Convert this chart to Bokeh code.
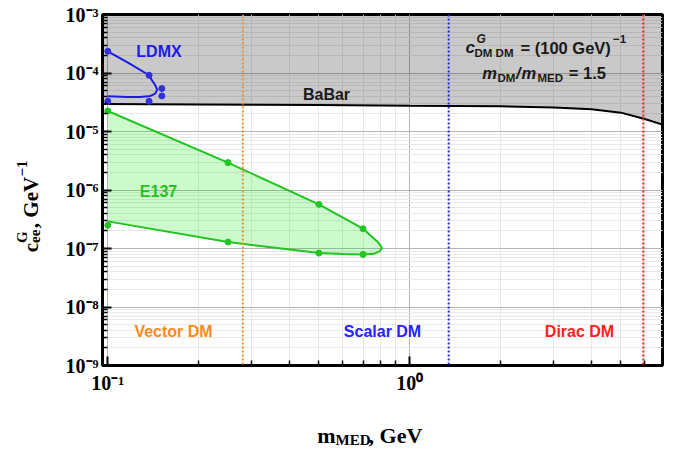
import math
from bokeh.plotting import figure
from bokeh.models import Label, FixedTicker, Range1d, Span
from bokeh.embed import file_html
from bokeh.resources import INLINE

# ---------------- data ----------------
x_major = [0.1, 1.0]
x_major_labels = ["10⁻¹", "10⁰"]
x_minor = [0.2, 0.3, 0.4, 0.5, 0.6, 0.7, 0.8, 0.9, 2.0, 3.0, 4.0, 5.0, 6.0]

y_major = [1e-9, 1e-8, 1e-7, 1e-6, 1e-5, 1e-4, 1e-3]
y_major_labels = ["10⁻⁹", "10⁻⁸", "10⁻⁷", "10⁻⁶", "10⁻⁵", "10⁻⁴", "10⁻³"]
y_minor = [m * d for d in [1e-9, 1e-8, 1e-7, 1e-6, 1e-5, 1e-4] for m in range(2, 10)]

babar_x = [0.09, 0.2, 0.5, 1.0, 2.0, 3.0, 4.0, 5.0, 6.0, 7.0]
babar_y = [2.95e-5, 2.9e-5, 2.85e-5, 2.75e-5, 2.7e-5, 2.57e-5, 2.4e-5, 2.1e-5, 1.64e-5, 1.27e-5]

e137_x = [0.1, 0.25, 0.5, 0.7, 0.751, 0.784, 0.804, 0.808, 0.796, 0.76, 0.70, 0.6, 0.5, 0.25, 0.1]
e137_y = [2.24e-5, 2.94e-6, 5.68e-7, 2.18e-7, 1.57e-7, 1.29e-7, 1.09e-7, 1.0e-7,
          9.0e-8, 8.1e-8, 7.92e-8, 8.05e-8, 8.34e-8, 1.29e-7, 2.91e-7]
e137_pts_x = [0.1, 0.25, 0.5, 0.7, 0.1, 0.25, 0.5, 0.7]
e137_pts_y = [2.24e-5, 2.94e-6, 5.68e-7, 2.18e-7, 2.49e-7, 1.29e-7, 8.34e-8, 7.92e-8]

ldmx_x = [0.1, 0.117, 0.137, 0.14, 0.1436, 0.1458, 0.1436, 0.1385, 0.128, 0.116, 0.1]
ldmx_y = [2.35e-4, 1.49e-4, 9.15e-5, 7.5e-5, 6.16e-5, 5.2e-5, 4.45e-5, 4.05e-5, 3.9e-5, 3.9e-5, 4.0e-5]
ldmx_pts_x = [0.1, 0.137, 0.151, 0.151, 0.1, 0.137]
ldmx_pts_y = [2.35e-4, 9.15e-5, 5.42e-5, 4.05e-5, 3.29e-5, 3.29e-5]

vline_x = [0.28, 1.345, 5.93]
vline_colors = ["#ff8a1c", "#2424ff", "#ff2020"]
region_labels = ["Vector DM", "Scalar DM", "Dirac DM"]

# ---------------- geometry ----------------
W, H = 688, 451
L, R, T, B = 102, 662, 14, 365
X0, X1 = 0.09604, 6.867
Y0, Y1 = 1e-9, 1e-3


def dx(sx):
    lx0, lx1 = math.log10(X0), math.log10(X1)
    return 10 ** (lx0 + (sx - L) / (R - L) * (lx1 - lx0))


def dy(sy):
    ly0, ly1 = math.log10(Y0), math.log10(Y1)
    return 10 ** (ly1 - (sy - T) / (B - T) * (ly1 - ly0))


p = figure(width=W, height=H, x_axis_type="log", y_axis_type="log",
           x_range=Range1d(X0, X1), y_range=Range1d(Y0, Y1),
           output_backend="svg", toolbar_location=None,
           min_border_left=L, min_border_right=W - R,
           min_border_top=T, min_border_bottom=H - B)
p.background_fill_color = "white"
p.border_fill_color = "white"
p.outline_line_color = "black"
p.outline_line_width = 3

for ax, maj, lab_, mnr in ((p.xaxis, x_major, x_major_labels, x_minor),
                           (p.yaxis, y_major, y_major_labels, y_minor)):
    ax.ticker = FixedTicker(ticks=maj, minor_ticks=mnr)
    ax.major_label_overrides = {t: s for t, s in zip(maj, lab_)}
    ax.axis_line_color = None
    ax.major_tick_in = 9
    ax.major_tick_out = 0
    ax.minor_tick_in = 5
    ax.minor_tick_out = 0
    ax.major_tick_line_width = 2
    ax.minor_tick_line_width = 1.5
    ax.major_tick_line_color = "black"
    ax.minor_tick_line_color = "black"
    ax.major_label_text_font = "Liberation Serif"
    ax.major_label_text_font_style = "bold"
    ax.major_label_text_font_size = "20px"
    ax.major_label_text_color = "black"
p.xaxis.major_label_standoff = 6
p.yaxis.major_label_standoff = 4

p.xgrid.ticker = FixedTicker(ticks=x_major, minor_ticks=x_minor)
p.ygrid.ticker = FixedTicker(ticks=y_major, minor_ticks=y_minor)
for g in (p.xgrid, p.ygrid):
    g.grid_line_color = "#b4b4b4"
    g.grid_line_width = 1
    g.minor_grid_line_color = "#e8e8e8"
    g.minor_grid_line_width = 1

# BaBar excluded region
p.varea(x=babar_x, y1=babar_y, y2=[Y1] * len(babar_x), fill_color="black", fill_alpha=0.21)
p.line(babar_x, babar_y, line_color="black", line_width=2)

# E137
p.patch(e137_x, e137_y, fill_color="#00e600", fill_alpha=0.2, line_color=None)
p.line(e137_x, e137_y, line_color="#22c422", line_width=2)
p.scatter(e137_pts_x, e137_pts_y, size=6, color="#22c422")

# LDMX
p.line(ldmx_x, ldmx_y, line_color="#1c1ce6", line_width=2)
p.scatter(ldmx_pts_x, ldmx_pts_y, size=6, color="#3030dd")

# vertical thresholds
for xv, c in zip(vline_x, vline_colors):
    p.add_layout(Span(location=xv, dimension="height", line_color=c,
                      line_dash="2 2", line_width=2))


def lab(text, sx, sy, size, color="black", style="bold", font="Liberation Sans",
        align="left", baseline="alphabetic", angle=0.0, place=None):
    lb = Label(x=dx(sx), y=dy(sy), text=text, text_font=font,
               text_font_size=f"{size}px", text_font_style=style,
               text_color=color, text_align=align, text_baseline=baseline,
               angle=angle)
    if place is None:
        p.add_layout(lb)
    else:
        p.add_layout(lb, place)


# curve names
lab("LDMX", 158.5, 51, 16, color="#1c1ce6", align="center", baseline="middle")
lab("BaBar", 326, 94, 16, color="#1a1a1a", align="center", baseline="middle")
lab("E137", 158, 190.5, 16, color="#22c422", align="center", baseline="middle")
for txt, c, sx in zip(region_labels, vline_colors, [173, 382, 579]):
    lab(txt, sx, 331, 16, color=c, align="center", baseline="middle")

# parameter annotation
ink = "#1a1a1a"
lab("c", 465, 47, 17, color=ink, style="bold italic")
lab("G", 476, 38, 12, color=ink, style="bold italic")
lab("DM DM", 474, 52.5, 11.5, color=ink)
lab("= (100 GeV)", 520, 47, 16.5, color=ink)
lab("−1", 612.5, 38.5, 11.5, color=ink)
lab("m", 481.7, 72.7, 16.5, color=ink, style="bold italic")
lab("DM", 497, 77.5, 11.5, color=ink)
lab("/", 515.5, 72.7, 16.5, color=ink, style="bold italic")
lab("m", 521, 72.7, 16.5, color=ink, style="bold italic")
lab("MED", 537, 77.5, 11.5, color=ink)
lab("= 1.5", 568.3, 72.7, 16.5, color=ink)

# axis titles (placed in side panels so that they are drawn outside the frame)
serif = "Liberation Serif"
nb = "\u00a0"
lab("m" + nb * 6 + ", GeV", 316.7, 434.5, 22, font=serif, place="below")
lab("MED", 335, 439.0, 15, font=serif, place="below")

rot = math.pi / 2
lab("c" + "\u2002\u2009" + ", GeV", 30.5, 251.7, 21, font=serif, angle=rot, place="left")
lab("ee", 34.5, 242.4, 15, font=serif, angle=rot, place="left")
lab("G", 21.0, 242.4, 15, font=serif, angle=rot, place="left")
lab("−1", 21.0, 176.0, 15, font=serif, angle=rot, place="right")

open("out.html", "w").write(file_html(p, INLINE))
